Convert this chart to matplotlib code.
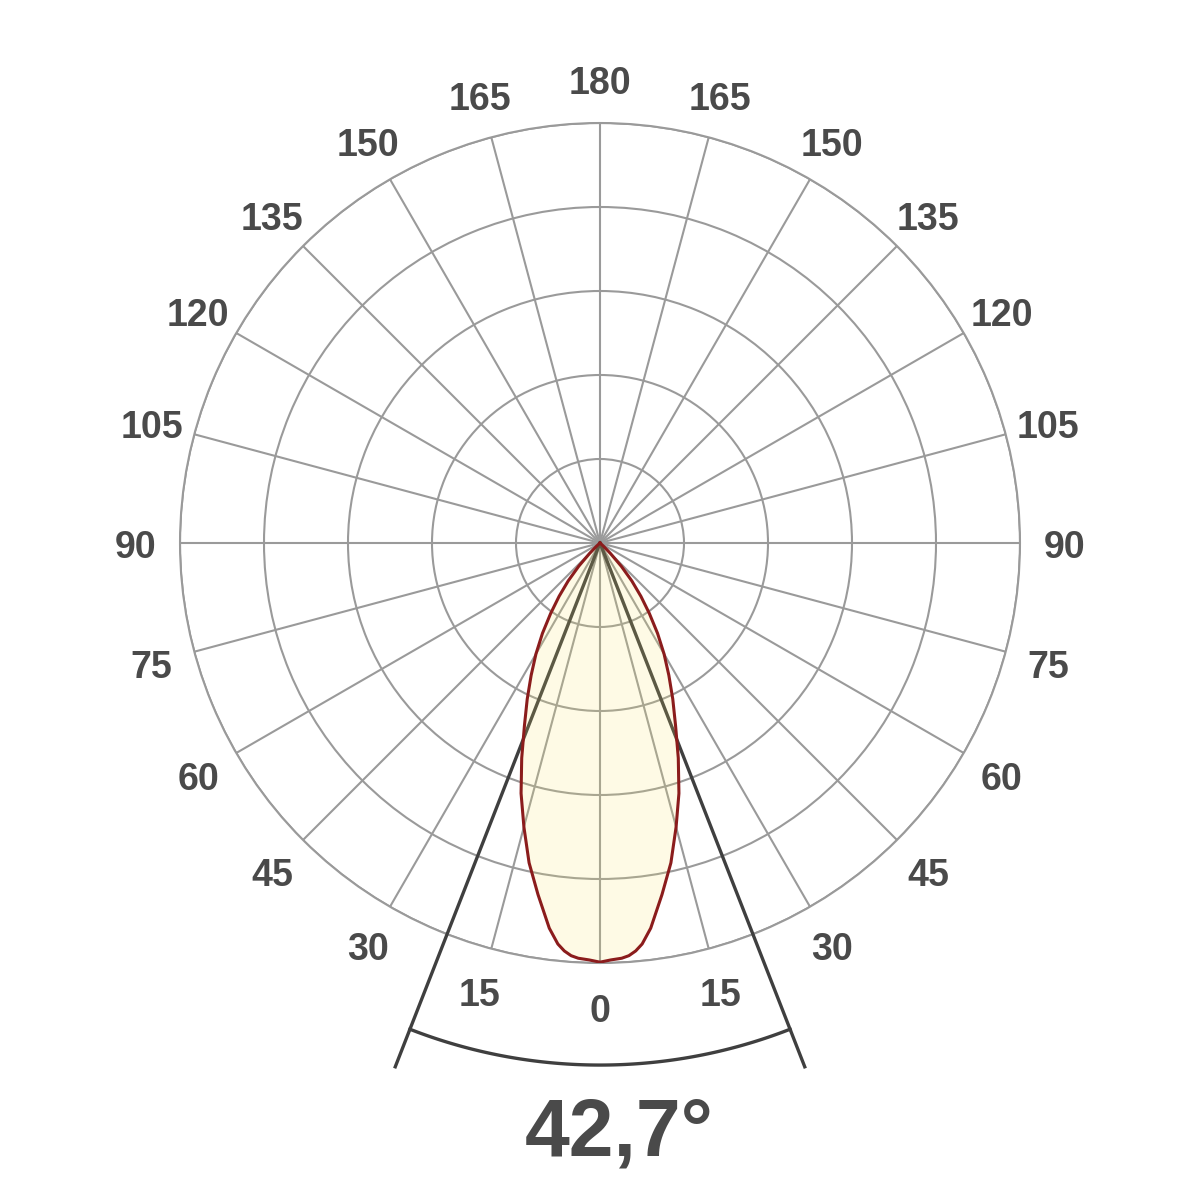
import numpy as np
import matplotlib
matplotlib.use("Agg")
import matplotlib.pyplot as plt
from matplotlib.transforms import offset_copy

# luminous intensity curve (normalised), symmetric
angles_deg = [0, 1.5, 3, 4, 5, 6, 7.5, 10, 12.5, 15, 17.5, 20, 22.5, 25,
              27.5, 30, 32.5, 35, 37.5, 40, 42.5, 45, 47.5, 50]
intensity = [0.998, 0.993, 0.99, 0.985, 0.975, 0.96, 0.925, 0.85, 0.78,
             0.70, 0.625, 0.545, 0.47, 0.41, 0.355, 0.305, 0.255, 0.205,
             0.16, 0.118, 0.075, 0.035, 0.012, 0.0]

beam_angle = 42.7
grid_angles = list(range(0, 360, 15))
ring_levels = [0.2, 0.4, 0.6, 0.8, 1.0]
beam_label = "42,7°"

text_col = "#4a4a4a"
grid_col = "#9a9a9a"
plt.rcParams['font.family'] = ['Liberation Sans', 'DejaVu Sans']

fig = plt.figure(figsize=(12, 12), dpi=100)
ax = fig.add_axes([0.15, 0.1975, 0.7, 0.7], projection='polar')
ax.set_theta_zero_location('S')
ax.set_theta_direction(1)
ax.set_ylim(0, 1.0)

# grid
ax.set_xticks(np.radians(grid_angles))
ax.set_xticklabels([])
ax.set_yticks(ring_levels)
ax.set_yticklabels([])
ax.grid(True, color=grid_col, lw=1.5)
ax.spines['polar'].set_color(grid_col)
ax.spines['polar'].set_linewidth(1.5)
ax.tick_params(length=0)

# angle labels 0..180 on both sides
lab_tr = offset_copy(ax.transData, fig=fig, x=0, y=-5, units='dots')
for a in grid_angles:
    lab = min(a, 360 - a)
    ax.text(np.radians(a), 1.105, str(lab), ha='center', va='center',
            fontsize=27, fontweight='bold', color=text_col, clip_on=False,
            transform=lab_tr)

# beam angle lines and arc
half = np.radians(beam_angle / 2)
for s in (-1, 1):
    ax.plot([0, s * half], [0, 1.339], color="#3f3f3f", lw=2.4,
            clip_on=False, zorder=3)
arc_t = np.linspace(-half, half, 100)
ax.plot(arc_t, np.full_like(arc_t, 1.243), color="#3f3f3f", lw=2.4,
        clip_on=False, zorder=3)

# intensity curve, mirrored
a = np.array(angles_deg)
v = np.array(intensity)
theta = np.radians(np.concatenate([-a[::-1], a[1:]]))
r = np.concatenate([v[::-1], v[1:]])
ax.fill(theta, r, color=(249/255, 230/255, 99/255), alpha=0.16, zorder=4, lw=0)
ax.plot(theta, r, color="#8b1c1c", lw=2.2, zorder=5, solid_joinstyle='round')

fig.text(0.516, 0.055, beam_label, ha='center', va='center', fontsize=58,
         fontweight='bold', color=text_col)

fig.savefig("out.png", dpi=100, facecolor='white')
